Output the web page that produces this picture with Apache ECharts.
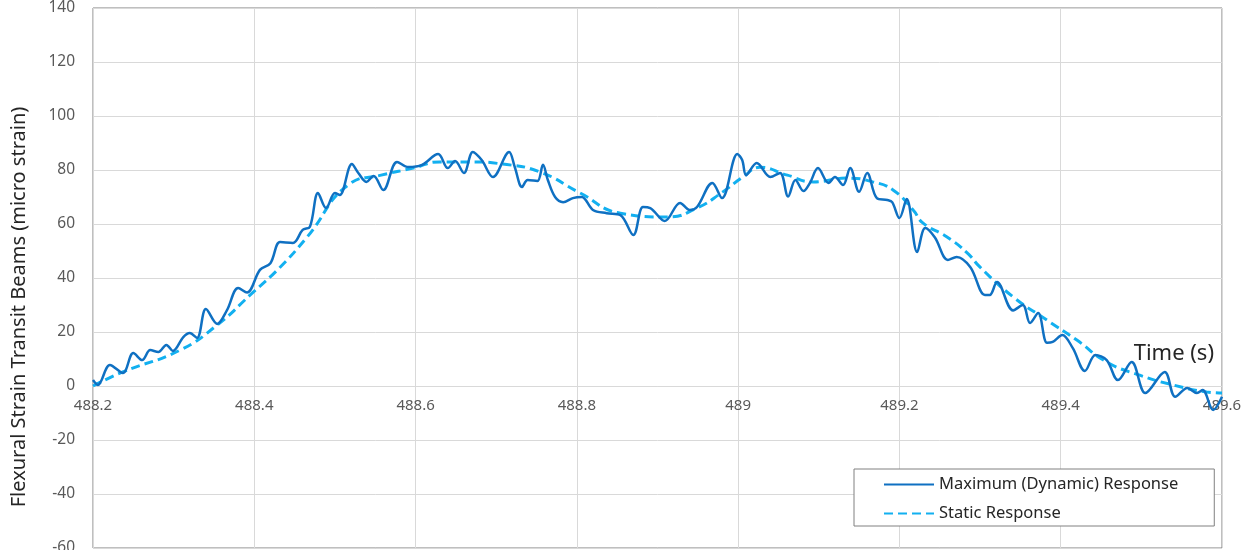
<!DOCTYPE html>
<html>
<head>
<meta charset="utf-8">
<script src="https://cdn.jsdelivr.net/npm/echarts@6/dist/echarts.min.js"></script>
<style>
  html, body { margin: 0; padding: 0; background: #ffffff; }
  #chart { width: 1244px; height: 550px; }
</style>
</head>
<body>
<div id="chart"></div>
<script>
// Time stamps (s) and flexural strain (micro strain) of the maximum dynamic response
const dynamicTime = [
  488.200, 488.206, 488.221, 488.237, 488.250, 488.261, 488.271, 488.281, 488.291, 488.299,
  488.312, 488.320, 488.329, 488.340, 488.354, 488.366, 488.380, 488.391, 488.407, 488.420,
  488.432, 488.448, 488.460, 488.469, 488.479, 488.489, 488.500, 488.506, 488.521, 488.529,
  488.539, 488.548, 488.560, 488.577, 488.591, 488.608, 488.628, 488.640, 488.649, 488.660,
  488.671, 488.682, 488.696, 488.716, 488.723, 488.732, 488.739, 488.751, 488.758, 488.764,
  488.773, 488.783, 488.795, 488.806, 488.820, 488.837, 488.854, 488.870, 488.882, 488.891,
  488.909, 488.928, 488.940, 488.949, 488.968, 488.980, 488.999, 489.005, 489.010, 489.023,
  489.040, 489.052, 489.062, 489.071, 489.081, 489.089, 489.099, 489.112, 489.120, 489.130,
  489.139, 489.150, 489.160, 489.172, 489.185, 489.191, 489.200, 489.209, 489.222, 489.232,
  489.244, 489.260, 489.271, 489.288, 489.306, 489.312, 489.321, 489.341, 489.353, 489.362,
  489.372, 489.383, 489.390, 489.402, 489.415, 489.430, 489.443, 489.457, 489.471, 489.488,
  489.505, 489.529, 489.542, 489.557, 489.569, 489.576, 489.589, 489.600
];
const dynamicStrain = [
  2.2, 0.4, 7.8, 4.8, 12.2, 9.6, 13.3, 12.6, 15.2, 13.0,
  18.1, 19.6, 17.8, 28.5, 23.0, 28.0, 36.3, 34.6, 43.0, 45.5,
  53.3, 53.0, 57.8, 59.0, 71.5, 65.9, 71.5, 70.7, 82.2, 78.9,
  75.6, 77.8, 72.6, 83.0, 81.1, 81.9, 85.9, 80.7, 83.3, 78.9,
  86.7, 83.7, 77.4, 86.7, 81.1, 73.7, 76.3, 75.9, 81.9, 76.3,
  70.0, 68.1, 69.6, 70.0, 65.2, 64.0, 63.3, 55.9, 66.3, 65.9,
  61.1, 67.8, 65.2, 66.3, 75.2, 69.6, 85.9, 83.7, 78.1, 82.6,
  77.4, 78.9, 70.2, 76.3, 72.2, 75.2, 80.7, 75.2, 77.4, 74.4,
  80.7, 71.9, 78.9, 69.6, 68.9, 68.1, 62.2, 69.3, 49.6, 58.5,
  55.0, 46.7, 47.8, 44.0, 33.7, 33.7, 38.5, 28.0, 30.0, 23.3,
  27.0, 16.0, 16.3, 18.9, 14.0, 5.6, 11.5, 9.6, 2.2, 8.9,
  -2.6, 5.2, -4.0, -0.7, -2.6, -1.5, -8.9, -4.0
];

// Time stamps (s) and flexural strain (micro strain) of the static response
const staticTime = [
  488.200, 488.237, 488.308, 488.354, 488.396, 488.432, 488.465, 488.519, 488.556, 488.597,
  488.630, 488.667, 488.708, 488.754, 488.804, 488.854, 488.912, 488.949, 488.981, 489.006,
  489.027, 489.061, 489.093, 489.135, 489.167, 489.192, 489.217, 489.229, 489.259, 489.284,
  489.300, 489.341, 489.383, 489.420, 489.457, 489.498, 489.539, 489.581, 489.600
];
const staticStrain = [
  0.0, 5.2, 13.3, 22.6, 34.0, 44.0, 55.0, 75.0, 78.0, 80.7,
  83.0, 83.0, 82.2, 79.3, 71.5, 64.0, 62.6, 65.9, 71.9, 77.4,
  81.0, 78.1, 75.6, 77.0, 75.6, 72.6, 65.2, 60.4, 55.2, 49.3,
  44.0, 33.0, 24.4, 17.0, 8.9, 4.0, 0.4, -2.2, -2.6
];

const seriesNames = ['Maximum (Dynamic) Response', 'Static Response'];
const xAxisTitle = 'Time (s)';
const yAxisTitle = 'Flexural Strain Transit Beams (micro strain)';

const zip = (xs, ys) => xs.map((x, i) => [x, ys[i]]);

// Plot box and value ranges
const gridTop = 8, gridBottom = 2, chartHeight = 550;
const yMin = -60, yMax = 140;
// Distance from the bottom of the plot box up to the strain = 0 line,
// so the time axis (line + labels) sits on zero.
const plotHeight = chartHeight - gridTop - gridBottom;
const zeroOffset = -plotHeight * (0 - yMin) / (yMax - yMin);

const fontFamily = '"Noto Sans", "Open Sans", sans-serif';
const chart = echarts.init(document.getElementById('chart'), null, { renderer: 'canvas' });

chart.setOption({
  animation: false,
  backgroundColor: '#ffffff',
  textStyle: { fontFamily: fontFamily },
  grid: {
    left: 93, right: 22, top: gridTop, bottom: gridBottom,
    show: true,
    borderColor: '#7f7f7f',
    borderWidth: 1,
    backgroundColor: 'transparent',
    containLabel: false,
    outerBoundsMode: 'none'
  },
  legend: {
    orient: 'vertical',
    left: 854,
    top: 469,
    padding: [7, 36, 4, 29],
    itemWidth: 50,
    itemHeight: 14,
    itemGap: 12,
    backgroundColor: '#ffffff',
    borderColor: '#808080',
    borderWidth: 1,
    borderRadius: 0,
    itemStyle: { opacity: 0 },
    textStyle: { color: '#262626', fontSize: 16.5, fontFamily: fontFamily },
    data: seriesNames
  },
  xAxis: {
    type: 'value',
    min: 488.2,
    max: 489.6,
    interval: 0.2,
    position: 'bottom',
    offset: zeroOffset,
    name: xAxisTitle,
    nameLocation: 'end',
    nameGap: -8,
    nameTextStyle: {
      color: '#262626', fontSize: 22, fontFamily: fontFamily,
      align: 'right', verticalAlign: 'bottom', padding: [0, 0, 21, 0]
    },
    axisLine: { show: true, onZero: false, lineStyle: { color: '#d9d9d9', width: 1 } },
    axisTick: { show: false },
    axisLabel: { color: '#595959', fontSize: 15, margin: 12, fontFamily: fontFamily },
    splitLine: { show: true, lineStyle: { color: '#d9d9d9', width: 1 } }
  },
  yAxis: {
    type: 'value',
    min: yMin,
    max: yMax,
    interval: 20,
    name: yAxisTitle,
    nameLocation: 'middle',
    nameRotate: 90,
    nameGap: 64,
    nameTextStyle: {
      color: '#262626', fontSize: 20, fontFamily: fontFamily,
      padding: [0, 58, 0, 0]
    },
    axisLine: { show: false },
    axisTick: { show: false },
    axisLabel: { color: '#595959', fontSize: 15.5, margin: 18, fontFamily: fontFamily },
    splitLine: { show: true, lineStyle: { color: '#d9d9d9', width: 1 } }
  },
  series: [
    {
      name: seriesNames[0],
      type: 'line',
      data: zip(dynamicTime, dynamicStrain),
      showSymbol: false,
      symbol: 'none',
      smooth: 0.35,
      lineStyle: { color: '#0f70c2', width: 2.5 },
      itemStyle: { color: '#0f70c2' },
      z: 3
    },
    {
      name: seriesNames[1],
      type: 'line',
      data: zip(staticTime, staticStrain),
      showSymbol: false,
      symbol: 'none',
      smooth: 0.5,
      lineStyle: { color: '#12b0f0', width: 3, type: [9, 5] },
      itemStyle: { color: '#12b0f0' },
      z: 2
    }
  ]
});
</script>
</body>
</html>
